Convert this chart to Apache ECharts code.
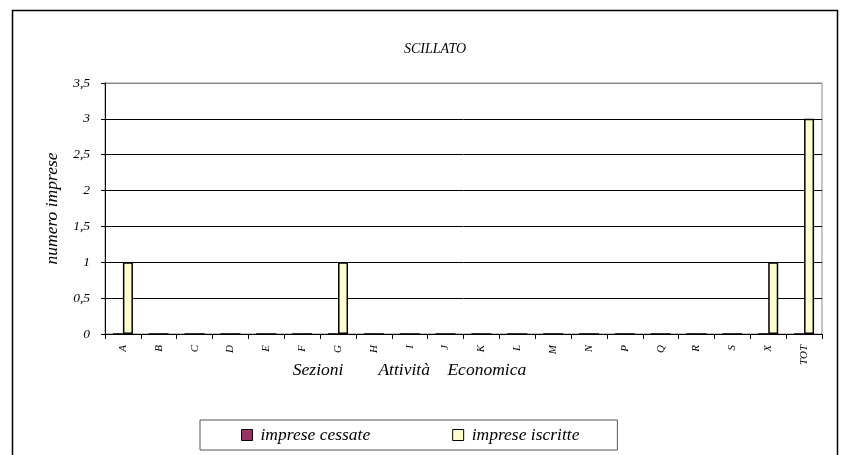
<!DOCTYPE html>
<html>
<head>
<meta charset="utf-8">
<script src="https://cdn.jsdelivr.net/npm/echarts@6/dist/echarts.min.js"></script>
<style>html,body{margin:0;padding:0;background:#fff}#c{width:841px;height:455px}</style>
</head>
<body>
<div id="c"></div>
<script>
var categories = ['A','B','C','D','E','F','G','H','I','J','K','L','M','N','P','Q','R','S','X','TOT'];
var cessate = [0,0,0,0,0,0,0,0,0,0,0,0,0,0,0,0,0,0,0,0];
var iscritte = [1,0,0,0,0,0,1,0,0,0,0,0,0,0,0,0,0,0,1,3];
var yTicks = {min:0, max:3.5, interval:0.5};
var chartTitle = 'SCILLATO';
var seriesNames = ['imprese cessate','imprese iscritte'];

var FONT = '"Liberation Serif", "Times New Roman", serif';
var chart = echarts.init(document.getElementById('c'), null, {renderer:'canvas'});
chart.setOption({
  animation: false,
  backgroundColor: '#fff',
  title: {
    text: chartTitle, left: 430, top: 37, textAlign: 'center',
    textStyle: {fontFamily: FONT, fontStyle: 'italic', fontWeight: 'normal', fontSize: 14, color: '#000'}
  },
  graphic: [{
    type: 'rect', silent: true, z: -1,
    shape: {x: 12.5, y: 10.5, width: 825, height: 460},
    style: {fill: 'none', stroke: '#000', lineWidth: 1.5}
  }],
  legend: {
    left: 200, top: 420,
    padding: [6, 38, 6, 41],
    itemWidth: 11, itemHeight: 11, itemGap: 82,
    borderColor: '#555', borderWidth: 1,
    icon: 'rect',
    textStyle: {fontFamily: FONT, fontStyle: 'italic', fontSize: 17.5, color: '#000', padding: [0,0,0,3]},
    itemStyle: {borderColor: '#000', borderWidth: 1},
    data: seriesNames
  },
  grid: {left: 105, right: 19, top: 83, bottom: 121, show: true, borderColor: '#888', borderWidth: 1},
  xAxis: {
    type: 'category', data: categories,
    name: 'Sezioni        Attività    Economica',
    nameLocation: 'middle', nameGap: 27, nameMoveOverlap: false,
    nameTextStyle: {fontFamily: FONT, fontStyle: 'italic', fontSize: 17.5, color: '#000', padding: [0,108,0,0]},
    axisLine: {lineStyle: {color: '#000', width: 1}},
    axisTick: {show: true, length: 5, lineStyle: {color: '#000'}},
    axisLabel: {rotate: 90, margin: 11, fontFamily: FONT, fontStyle: 'italic', fontSize: 11, color: '#000'},
    splitLine: {show: false}
  },
  yAxis: {
    type: 'value', min: yTicks.min, max: yTicks.max, interval: yTicks.interval,
    name: 'numero imprese', nameLocation: 'middle', nameGap: 44, nameMoveOverlap: false,
    nameTextStyle: {fontFamily: FONT, fontStyle: 'italic', fontSize: 17.5, color: '#000'},
    axisLine: {show: true, lineStyle: {color: '#000', width: 1}},
    axisTick: {show: true, length: 4, lineStyle: {color: '#000'}},
    axisLabel: {margin: 15, fontFamily: FONT, fontStyle: 'italic', fontSize: 13.5, color: '#000',
      formatter: function(v){ return String(v).replace('.', ','); }},
    splitLine: {show: true, lineStyle: {color: ['#000','#000','#000','#000','#000','#000','#000','#888'], width: 1}}
  },
  series: [{
    name: seriesNames[0], type: 'bar', data: cessate,
    barWidth: 10, barGap: '0%',
    itemStyle: {color: '#993366', borderColor: '#000', borderWidth: 1}
  }, {
    name: seriesNames[1], type: 'bar', data: iscritte,
    barWidth: 10, barGap: '0%',
    itemStyle: {color: '#FFFFCC', borderColor: '#000', borderWidth: 1.5}
  }]
});
</script>
</body>
</html>
